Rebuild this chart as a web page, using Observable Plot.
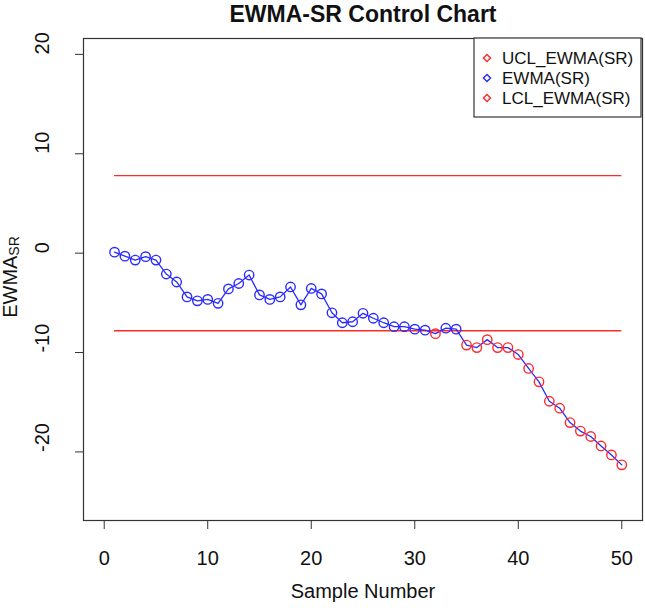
<!DOCTYPE html>
<html><head><meta charset="utf-8">
<script src="https://cdn.jsdelivr.net/npm/d3@7"></script>
<script src="https://cdn.jsdelivr.net/npm/@observablehq/plot@0.6"></script>
<style>body{margin:0;background:#fff;}</style>
</head><body><div id="chart"></div>
<script>
const sampleNumbers = [1,2,3,4,5,6,7,8,9,10,11,12,13,14,15,16,17,18,19,20,21,22,23,24,25,26,27,28,29,30,31,32,33,34,35,36,37,38,39,40,41,42,43,44,45,46,47,48,49,50];
const ewmaValues = [0.1,-0.3,-0.7,-0.35,-0.7,-2.1,-2.9,-4.4,-4.8,-4.65,-5.05,-3.6,-3.05,-2.2,-4.2,-4.65,-4.4,-3.4,-5.2,-3.55,-4.1,-6.0,-7.0,-6.9,-6.05,-6.55,-7.0,-7.4,-7.4,-7.65,-7.75,-8.1,-7.55,-7.65,-9.25,-9.5,-8.7,-9.5,-9.5,-10.2,-11.6,-12.95,-14.9,-15.6,-17.05,-17.9,-18.45,-19.4,-20.3,-21.3];
const UCL = 7.8;
const LCL = -7.8;
const xTicks = [0,10,20,30,40,50];
const yTicks = [-20,-10,0,10,20];
const legendLabels = ["UCL_EWMA(SR)","EWMA(SR)","LCL_EWMA(SR)"];
const titleText = "EWMA-SR Control Chart";
const xLabel = "Sample Number";

const RED = "#ff2a2a", BLUE = "#2b2bff";
const data = sampleNumbers.map((x,i)=>({x, y: ewmaValues[i], out: ewmaValues[i] < LCL || ewmaValues[i] > UCL}));
const limits = [{y: UCL, x1: sampleNumbers[0], x2: sampleNumbers[sampleNumbers.length-1]},
                {y: LCL, x1: sampleNumbers[0], x2: sampleNumbers[sampleNumbers.length-1]}];

const FONT = "'Liberation Sans', Arial, sans-serif";
const chart = Plot.plot({
  width: 645, height: 608,
  marginLeft: 83, marginRight: 3, marginTop: 38, marginBottom: 88,
  style: {fontFamily: FONT, background: "#fff", color: "#111"},
  x: {domain: [-2, 52]},
  y: {domain: [-26.9, 21.6]},
  color: {type: "identity"},
  marks: [
    Plot.frame({stroke: "#333", strokeWidth: 1.2}),
    Plot.axisX({ticks: xTicks, tickSize: 9, tickPadding: 21, fontSize: 20, label: null, stroke: "#333", tickFormat: d => String(d)}),
    Plot.axisY({ticks: yTicks, tickSize: 8, tickFormat: () => "", label: null, stroke: "#333"}),
    Plot.text(yTicks, {y: d => d, text: d => String(d), frameAnchor: "left", dx: -41, rotate: -90, fontSize: 20, fill: "#111"}),
    Plot.text([titleText], {frameAnchor: "top", lineAnchor: "middle", dy: -24, fontSize: 23, fontWeight: "bold", fill: "#111"}),
    Plot.text([xLabel], {frameAnchor: "bottom", lineAnchor: "middle", dy: 71, fontSize: 20, fill: "#111"}),
    Plot.ruleY(limits, {y: "y", x1: "x1", x2: "x2", stroke: RED, strokeWidth: 1.4}),
    Plot.line(data, {x: "x", y: "y", stroke: BLUE, strokeWidth: 1.3}),
    Plot.dot(data, {x: "x", y: "y", r: 4.7, stroke: d => d.out ? RED : BLUE, strokeWidth: 1.4, fill: "none"})
  ]
});
document.getElementById("chart").appendChild(chart);

const svg = d3.select(chart);
// y-axis label with subscript
const yl = svg.append("text")
  .attr("transform", "translate(17,277) rotate(-90)")
  .attr("text-anchor", "middle")
  .attr("font-family", FONT).attr("font-size", 20).attr("fill", "#111");
yl.append("tspan").text("EWMA");
yl.append("tspan").attr("font-size", 14).attr("dy", 2).text("SR");

// legend
const lg = svg.append("g").attr("text-anchor", "start");
lg.append("rect").attr("x", 474).attr("y", 38).attr("width", 167).attr("height", 79)
  .attr("fill", "#fff").attr("stroke", "#333").attr("stroke-width", 1.2);
const legendColors = [RED, BLUE, RED];
legendLabels.forEach((lab, i) => {
  const cy = 58 + i * 20, cx = 487, s = 3.6;
  lg.append("path").attr("d", `M${cx},${cy-s}L${cx+s},${cy}L${cx},${cy+s}L${cx-s},${cy}Z`)
    .attr("fill", "none").attr("stroke", legendColors[i]).attr("stroke-width", 1.4);
  lg.append("text").attr("x", 502).attr("y", cy).attr("dy", "0.35em").attr("text-anchor", "start")
    .attr("font-family", FONT).attr("font-size", 17).attr("fill", "#111").text(lab);
});
</script>
</body></html>
